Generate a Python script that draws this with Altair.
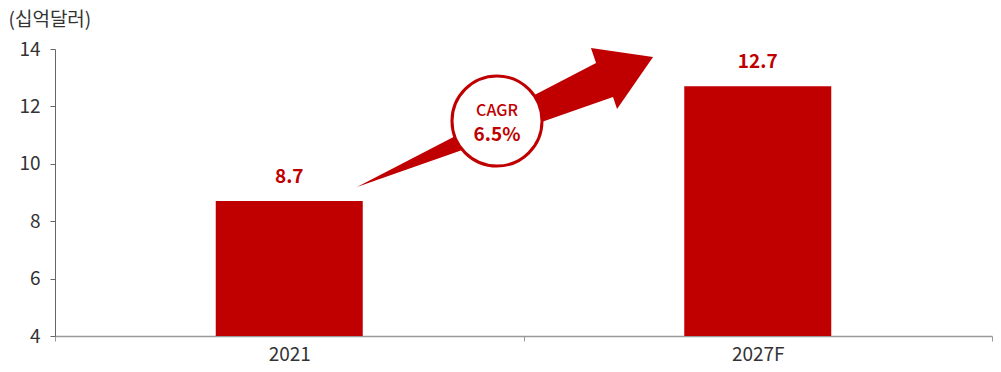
import altair as alt
import pandas as pd

categories = ["2021", "2027F"]
values = [8.7, 12.7]
value_labels = ["8.7", "12.7"]
y_ticks = [4, 6, 8, 10, 12, 14]
cagr_title = "CAGR"
cagr_value = "6.5%"
unit_label = "(십억달러)"

RED = "#C00000"
FONT = "Noto Sans CJK KR"

df = pd.DataFrame({"cat": categories, "val": values, "lab": value_labels})

x_enc = alt.X(
    "cat:N",
    sort=categories,
    scale=alt.Scale(paddingInner=0, paddingOuter=0),
    axis=alt.Axis(
        title=None, labelAngle=0, tickBand="extent", tickSize=5,
        domainColor="#999999", tickColor="#999999", domainWidth=1.5,
        labelFontSize=19, labelColor="#333333", labelFont=FONT, labelPadding=4,
    ),
)
y_scale = alt.Scale(domain=[4, 14], nice=False, zero=False)

bars = alt.Chart(df).mark_bar(size=147, color=RED).encode(
    x=x_enc,
    y=alt.Y(
        "val:Q", scale=y_scale,
        axis=alt.Axis(
            values=y_ticks, grid=False, tickSize=5, domainColor="#666666",
            tickColor="#666666", labelFontSize=19, labelColor="#333333",
            labelFont=FONT, labelPadding=10,
            title=unit_label, titleAngle=0, titleAlign="left",
            titleBaseline="middle", titleX=-47, titleY=-30,
            titleFontSize=19, titleFontWeight="normal", titleColor="#333333",
            titleFont=FONT,
        ),
    ),
    y2=alt.datum(4),
)

labels = alt.Chart(df).mark_text(
    color=RED, fontSize=19, fontWeight="bold", font=FONT,
    baseline="alphabetic", dy=-18,
).encode(x=alt.X("cat:N", sort=categories), y=alt.Y("val:Q", scale=y_scale), text="lab:N")

arrow_path = ("M -0.987 0.463 L 0.607 -0.363 L 0.573 -0.463 L 0.987 -0.403 "
              "L 0.747 -0.057 L 0.72 -0.137 Z")
arrow = alt.Chart(pd.DataFrame({"a": [0]})).mark_point(
    shape=arrow_path, size=90000, filled=True, color=RED, opacity=1, strokeWidth=0,
).encode(x=alt.value(450), y=alt.value(68.5))

circle = alt.Chart(pd.DataFrame({"a": [0]})).mark_point(
    shape="circle", size=8100, filled=False, fill="white", fillOpacity=1,
    stroke=RED, strokeWidth=3, opacity=1,
).encode(x=alt.value(442), y=alt.value(72))

cagr1 = alt.Chart(pd.DataFrame({"t": [cagr_title]})).mark_text(
    color=RED, fontSize=16, fontWeight=500, font=FONT, baseline="middle",
).encode(x=alt.value(442), y=alt.value(62), text="t:N")

cagr2 = alt.Chart(pd.DataFrame({"t": [cagr_value]})).mark_text(
    color=RED, fontSize=19, fontWeight="bold", font=FONT, baseline="middle",
).encode(x=alt.value(442), y=alt.value(86), text="t:N")

chart = alt.layer(bars, labels, arrow, circle, cagr1, cagr2).properties(
    width=937, height=287,
    autosize=alt.AutoSizeParams(type="none"),
    padding={"left": 55, "top": 49, "right": 9, "bottom": 36},
    background="white",
).configure_view(stroke=None)

chart.save("out.html", embed_options={"renderer": "svg", "actions": False})
